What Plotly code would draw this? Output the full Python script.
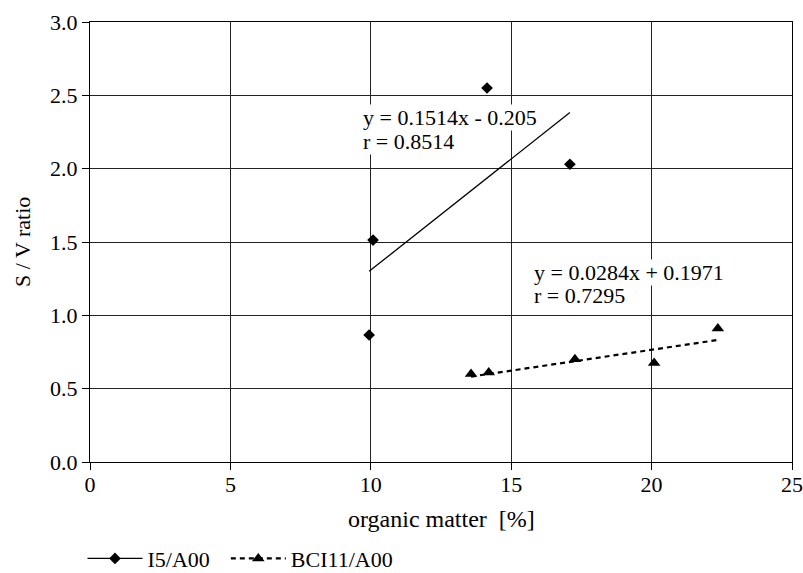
import numpy as np
import plotly.graph_objects as go

# Organic matter [%] and S/V ratio for the two sample sets
i5_om = [9.94, 10.08, 14.14, 17.09]
i5_sv = [0.866, 1.513, 2.55, 2.03]

bci_om = [13.57, 14.20, 17.27, 20.09, 22.36]
bci_sv = [0.600, 0.610, 0.700, 0.675, 0.910]

# Linear fits as stated on the chart
i5_slope, i5_icpt, i5_r = 0.1514, -0.205, 0.8514
bci_slope, bci_icpt, bci_r = 0.0284, 0.1971, 0.7295

x_ticks = [0, 5, 10, 15, 20, 25]
y_ticks = [0.0, 0.5, 1.0, 1.5, 2.0, 2.5, 3.0]

FONT = "Liberation Serif, Times New Roman, serif"
FS = 22
NBSP = "\u00a0"

fig = go.Figure()

# trend lines over each data range
x1 = np.array([min(i5_om), max(i5_om)])
fig.add_trace(go.Scatter(x=x1, y=i5_slope * x1 + i5_icpt, mode="lines",
                         line=dict(color="black", width=1.3), showlegend=False,
                         hoverinfo="skip"))
x2 = np.array([min(bci_om), max(bci_om)])
fig.add_trace(go.Scatter(x=x2, y=bci_slope * x2 + bci_icpt, mode="lines",
                         line=dict(color="black", width=2.2, dash="5px,4px"),
                         showlegend=False, hoverinfo="skip"))

# measured points
fig.add_trace(go.Scatter(x=i5_om, y=i5_sv, mode="markers", showlegend=False,
                         marker=dict(symbol="diamond", size=9, color="black")))
fig.add_trace(go.Scatter(x=bci_om, y=bci_sv, mode="markers", showlegend=False,
                         marker=dict(symbol="triangle-up", size=11, color="black")))

# legend entries
fig.add_trace(go.Scatter(x=[None], y=[None], mode="lines+markers",
                         name="I5/A00" + NBSP * 2,
                         line=dict(color="black", width=1.3),
                         marker=dict(symbol="diamond", size=9, color="black")))
fig.add_trace(go.Scatter(x=[None], y=[None], mode="lines+markers", name="BCI11/A00",
                         line=dict(color="black", width=2.2, dash="5px,4px"),
                         marker=dict(symbol="triangle-up", size=11, color="black")))

# equation labels, one white box per line (second line drawn first so the
# first line's descenders stay visible)
labels = [
    (9.69, 2.187, f"r = {i5_r}"),
    (9.69, 2.346, f"y = {i5_slope}x - {abs(i5_icpt)}"),
    (15.78, 1.132, f"r = {bci_r}"),
    (15.78, 1.289, f"y = {bci_slope}x + {bci_icpt}"),
]
for lx, ly, txt in labels:
    fig.add_annotation(x=lx, y=ly, text=txt, showarrow=False, xanchor="left",
                       yanchor="middle", bgcolor="white", borderpad=0,
                       font=dict(family=FONT, size=FS, color="black"))

# axis titles
fig.add_annotation(x=0.5, y=-0.1295, xref="paper", yref="paper",
                   text="organic matter  [%]", showarrow=False,
                   xanchor="center", yanchor="middle",
                   font=dict(family=FONT, size=24, color="black"))
fig.add_annotation(x=-0.0969, y=0.5, xref="paper", yref="paper",
                   text="S / V ratio", showarrow=False, textangle=-90,
                   xanchor="center", yanchor="middle",
                   font=dict(family=FONT, size=FS, color="black"))

axis_common = dict(showgrid=True, gridcolor="#222", gridwidth=1,
                   showline=True, linecolor="black", linewidth=1, mirror=True,
                   ticks="outside", ticklen=7, tickcolor="black",
                   zeroline=False, automargin=False,
                   tickfont=dict(family=FONT, size=FS, color="black"))

fig.update_xaxes(range=[0, 25], tickvals=x_ticks, ticktext=[str(v) for v in x_ticks],
                 ticklabelstandoff=-4, **axis_common)
fig.update_yaxes(range=[0, 3], tickvals=y_ticks, ticktext=[f"{v:.1f}" for v in y_ticks],
                 **axis_common)

fig.update_layout(
    width=803, height=573,
    margin=dict(l=90, r=11, t=22, b=111),
    paper_bgcolor="white", plot_bgcolor="white",
    font=dict(family=FONT, size=FS, color="black"),
    legend=dict(orientation="h", x=-0.0107, xanchor="left", xref="paper",
                y=0.025, yanchor="middle", yref="container",
                font=dict(family=FONT, size=FS, color="black"),
                itemwidth=55, bgcolor="rgba(0,0,0,0)"),
)

fig.write_html("out.html")
